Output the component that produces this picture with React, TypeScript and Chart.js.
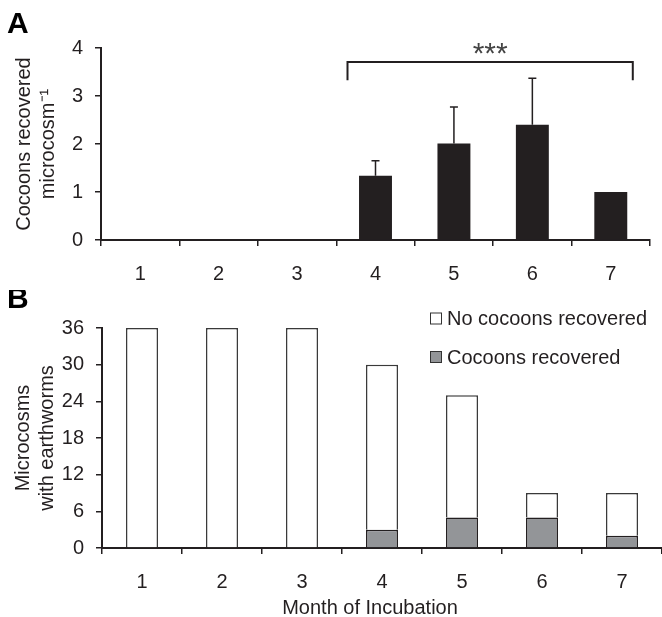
import React, { useEffect, useRef } from 'react';
import { Chart, registerables } from 'chart.js';
Chart.register(...registerables);

// ---------- data ----------
const months = ['1', '2', '3', '4', '5', '6', '7'];
const cocoonMeans = [0, 0, 0, 1.34, 2.01, 2.4, 1.0];
const cocoonErrors = [0, 0, 0, 0.31, 0.76, 0.97, 0];
const withCocoons = [0, 0, 0, 3, 5, 5, 2];
const withoutCocoons = [36, 36, 36, 27, 20, 4, 7];
const yTicksA = [0, 1, 2, 3, 4];
const yTicksB = [0, 6, 12, 18, 24, 30, 36];
const seriesNames = ['Cocoons recovered', 'No cocoons recovered'];
const titleA = ['Cocoons recovered', 'microcosm\u207B\u00B9'];
const titleB = ['Microcosms', 'with earthworms'];
const xTitle = 'Month of Incubation';
const signif = '***';

const FONT = "'Liberation Sans', Arial, sans-serif";
const INK = '#231f20';
const TICK_SIZE = 20;

const panelLetter = (letter: string, baseline: number) => ({
  id: 'letter' + letter,
  afterDraw(chart: any) {
    const ctx = chart.ctx;
    ctx.save();
    ctx.fillStyle = '#000';
    ctx.font = `bold 30px ${FONT}`;
    ctx.textBaseline = 'alphabetic';
    ctx.textAlign = 'left';
    ctx.fillText(letter, 7, baseline);
    ctx.restore();
  },
});

const errorBarsPlugin = {
  id: 'errorBars',
  afterDatasetsDraw(chart: any) {
    const ctx = chart.ctx;
    const meta = chart.getDatasetMeta(0);
    const y = chart.scales.y;
    ctx.save();
    ctx.strokeStyle = INK;
    ctx.lineWidth = 1.5;
    meta.data.forEach((bar: any, i: number) => {
      const e = cocoonErrors[i];
      if (!e) return;
      const top = y.getPixelForValue(cocoonMeans[i] + e);
      const base = y.getPixelForValue(cocoonMeans[i]);
      ctx.beginPath();
      ctx.moveTo(bar.x, base);
      ctx.lineTo(bar.x, top);
      ctx.moveTo(bar.x - 4, top);
      ctx.lineTo(bar.x + 4, top);
      ctx.stroke();
    });
    ctx.restore();
  },
};

const bracketPlugin = {
  id: 'bracket',
  afterDraw(chart: any) {
    const ctx = chart.ctx;
    const x = chart.scales.x;
    const y = chart.scales.y;
    const x0 = x.getPixelForValue(3) - 28;
    const x1 = x.getPixelForValue(6) + 22;
    const yTop = y.getPixelForValue(3.71);
    const yBot = y.getPixelForValue(3.33);
    ctx.save();
    ctx.strokeStyle = INK;
    ctx.lineWidth = 2;
    ctx.beginPath();
    ctx.moveTo(x0, yBot);
    ctx.lineTo(x0, yTop);
    ctx.lineTo(x1, yTop);
    ctx.lineTo(x1, yBot);
    ctx.stroke();
    ctx.fillStyle = '#444';
    ctx.font = `30px ${FONT}`;
    ctx.textAlign = 'center';
    ctx.textBaseline = 'alphabetic';
    const m = ctx.measureText(signif);
    const cy = yTop - 13;
    const base = cy + (m.actualBoundingBoxAscent - m.actualBoundingBoxDescent) / 2;
    ctx.fillText(signif, (x0 + x1) / 2, base);
    ctx.restore();
  },
};

const legendBPlugin = {
  id: 'legendB',
  afterDraw(chart: any) {
    const ctx = chart.ctx;
    const ds = chart.data.datasets;
    const rows = [ds[1], ds[0]];
    const ys = [28.5, 67];
    ctx.save();
    ctx.font = `20px ${FONT}`;
    ctx.textBaseline = 'middle';
    ctx.textAlign = 'left';
    rows.forEach((d: any, i: number) => {
      const cy = ys[i];
      ctx.fillStyle = d.backgroundColor;
      ctx.fillRect(430, cy - 6, 12, 12);
      ctx.strokeStyle = '#333';
      ctx.lineWidth = 1;
      ctx.strokeRect(430.5, cy - 5.5, 11, 11);
      ctx.fillStyle = INK;
      ctx.fillText(d.label, 447, cy + 1);
    });
    // x-axis title
    ctx.textAlign = 'center';
    ctx.fillText(xTitle, 370, 318);
    ctx.restore();
  },
};

const baseAxis = (tickLen: number) => ({
  grid: {
    drawOnChartArea: false,
    drawTicks: true,
    tickLength: tickLen,
    color: INK,
    lineWidth: 1.5,
  },
  border: { display: true, color: INK, width: 2 },
});

function ChartA() {
  const ref = useRef<HTMLCanvasElement>(null);
  useEffect(() => {
    const chart = new Chart(ref.current!, {
      type: 'bar',
      data: {
        labels: months,
        datasets: [
          {
            label: seriesNames[0],
            data: cocoonMeans,
            backgroundColor: INK,
            borderWidth: 0,
            categoryPercentage: 1,
            barPercentage: 0.42,
          },
        ],
      },
      options: {
        animation: false,
        responsive: false,
        events: [],
        layout: { padding: { top: 48, right: 12, left: 0, bottom: 0 } },
        plugins: { legend: { display: false }, tooltip: { enabled: false } },
        scales: {
          x: {
            ...baseAxis(6),
            ticks: { color: INK, font: { size: TICK_SIZE, family: FONT }, padding: 16 },
            afterFit: (s: any) => {
              s.height = 50;
            },
          },
          y: {
            ...baseAxis(6),
            min: 0,
            max: 4,
            afterBuildTicks: (s: any) => {
              s.ticks = yTicksA.map((v) => ({ value: v }));
            },
            ticks: { color: INK, font: { size: TICK_SIZE, family: FONT }, padding: 12 },
            title: {
              display: true,
              text: titleA,
              color: INK,
              font: { size: 20, family: FONT, lineHeight: 1.2 },
              padding: { top: 12, bottom: 0 },
            },
            afterFit: (s: any) => {
              s.width = 101;
            },
          },
        },
      },
      plugins: [errorBarsPlugin, bracketPlugin, panelLetter('A', 33)],
    } as any);
    return () => chart.destroy();
  }, []);
  return (
    <canvas
      ref={ref}
      width={662}
      height={290}
      style={{ position: 'absolute', left: 0, top: 0, width: 662, height: 290 }}
    />
  );
}

function ChartB() {
  const ref = useRef<HTMLCanvasElement>(null);
  useEffect(() => {
    const chart = new Chart(ref.current!, {
      type: 'bar',
      data: {
        labels: months,
        datasets: [
          {
            label: seriesNames[0],
            data: withCocoons,
            backgroundColor: '#939598',
            borderColor: '#231f20',
            borderWidth: 1.5,
            categoryPercentage: 1,
            barPercentage: 0.4,
          },
          {
            label: seriesNames[1],
            data: withoutCocoons,
            backgroundColor: '#ffffff',
            borderColor: '#3a3a3a',
            borderWidth: 1.5,
            categoryPercentage: 1,
            barPercentage: 0.4,
          },
        ],
      },
      options: {
        animation: false,
        responsive: false,
        events: [],
        layout: { padding: { top: 38, right: 0, left: 0, bottom: 0 } },
        plugins: { legend: { display: false }, tooltip: { enabled: false } },
        scales: {
          x: {
            ...baseAxis(6),
            stacked: true,
            ticks: { color: INK, font: { size: TICK_SIZE, family: FONT }, padding: 16 },
            afterFit: (s: any) => {
              s.height = 69;
            },
          },
          y: {
            ...baseAxis(6),
            stacked: true,
            min: 0,
            max: 36,
            afterBuildTicks: (s: any) => {
              s.ticks = yTicksB.map((v) => ({ value: v }));
            },
            ticks: { color: INK, font: { size: TICK_SIZE, family: FONT }, padding: 12 },
            title: {
              display: true,
              text: titleB,
              color: INK,
              font: { size: 20, family: FONT, lineHeight: 1.2 },
              padding: { top: 11, bottom: 0 },
            },
            afterFit: (s: any) => {
              s.width = 102;
            },
          },
        },
      },
      plugins: [legendBPlugin, panelLetter('B', 18)],
    } as any);
    return () => chart.destroy();
  }, []);
  return (
    <canvas
      ref={ref}
      width={662}
      height={327}
      style={{ position: 'absolute', left: 0, top: 290, width: 662, height: 327 }}
    />
  );
}

export default function App() {
  return (
    <div
      style={{
        position: 'absolute',
        left: 0,
        top: 0,
        width: 662,
        height: 617,
        background: '#fff',
        overflow: 'hidden',
      }}
    >
      <ChartA />
      <ChartB />
    </div>
  );
}
